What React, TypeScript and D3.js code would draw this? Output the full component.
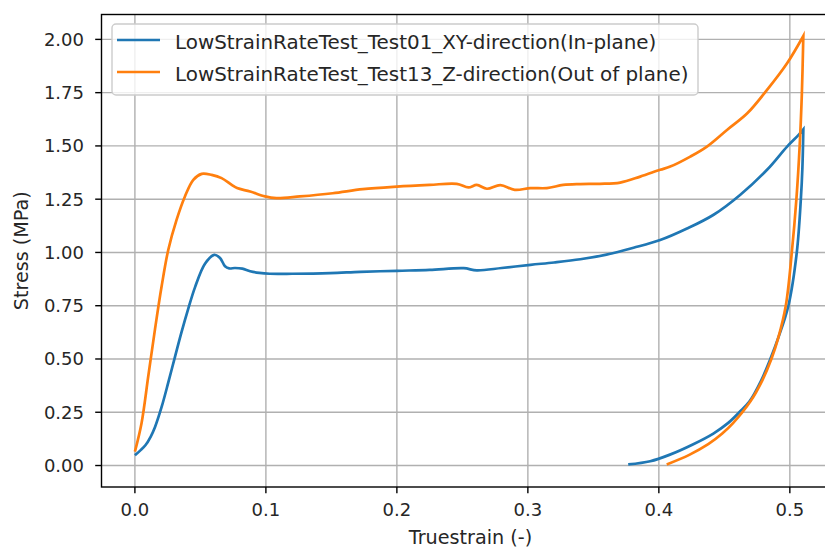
import React from 'react';
import * as d3 from 'd3';

// Test01, XY-direction (in-plane): loading part
const xyLoadStrain = [0, 0.004, 0.008, 0.012, 0.0153, 0.0204, 0.0255, 0.0306, 0.0357, 0.0407, 0.0458, 0.0535, 0.0606, 0.065, 0.0688, 0.072, 0.0764, 0.082, 0.088, 0.095, 0.103, 0.12, 0.149, 0.172, 0.2, 0.225, 0.251, 0.261, 0.28, 0.302, 0.32, 0.34, 0.36, 0.3807, 0.401, 0.4215, 0.4418, 0.462, 0.4826, 0.4979, 0.5067, 0.5103];
const xyLoadStress = [0.048, 0.07, 0.095, 0.135, 0.18, 0.275, 0.39, 0.51, 0.628, 0.735, 0.835, 0.947, 0.989, 0.974, 0.935, 0.925, 0.927, 0.924, 0.912, 0.904, 0.9, 0.9, 0.903, 0.909, 0.914, 0.918, 0.926, 0.916, 0.927, 0.942, 0.953, 0.968, 0.99, 1.022, 1.058, 1.112, 1.177, 1.27, 1.388, 1.497, 1.552, 1.578];
// unloading part
const xyUnloadStrain = [0.5103, 0.5096, 0.5084, 0.5053, 0.4989, 0.4912, 0.4851, 0.4782, 0.4691, 0.4614, 0.453, 0.4416, 0.4263, 0.408, 0.3934, 0.3766];
const xyUnloadStress = [1.578, 1.4, 1.25, 1.0, 0.75, 0.6, 0.5, 0.4, 0.3, 0.25, 0.2, 0.15, 0.1, 0.05, 0.02, 0.005];

// Test13, Z-direction (out of plane): loading part
const zLoadStrain = [0, 0.0051, 0.0102, 0.0153, 0.0204, 0.0255, 0.0318, 0.0382, 0.0446, 0.051, 0.0586, 0.0662, 0.0739, 0.078, 0.088, 0.0993, 0.108, 0.126, 0.151, 0.174, 0.2, 0.225, 0.2457, 0.2546, 0.261, 0.2687, 0.279, 0.29, 0.302, 0.3145, 0.327, 0.34, 0.355, 0.3705, 0.3858, 0.401, 0.4087, 0.424, 0.4367, 0.452, 0.4675, 0.4826, 0.4979, 0.5103];
const zLoadStress = [0.065, 0.2, 0.419, 0.638, 0.841, 1.013, 1.153, 1.263, 1.341, 1.369, 1.364, 1.349, 1.317, 1.302, 1.286, 1.263, 1.255, 1.263, 1.278, 1.297, 1.309, 1.317, 1.322, 1.305, 1.317, 1.299, 1.316, 1.294, 1.302, 1.302, 1.317, 1.321, 1.322, 1.328, 1.356, 1.388, 1.403, 1.45, 1.497, 1.575, 1.653, 1.763, 1.888, 2.016];
// unloading part
const zUnloadStrain = [0.5103, 0.5092, 0.5075, 0.505, 0.5015, 0.4969, 0.4912, 0.4859, 0.479, 0.4698, 0.4568, 0.4484, 0.4377, 0.4232, 0.406];
const zUnloadStress = [2.016, 1.75, 1.5, 1.25, 1.0, 0.75, 0.6, 0.5, 0.4, 0.3, 0.2, 0.15, 0.1, 0.05, 0.005];

const xTicks = [0, 0.1, 0.2, 0.3, 0.4, 0.5];
const yTicks = [0, 0.25, 0.5, 0.75, 1.0, 1.25, 1.5, 1.75, 2.0];

const seriesNames = [
  'LowStrainRateTest_Test01_XY-direction(In-plane)',
  'LowStrainRateTest_Test13_Z-direction(Out of plane)',
];
const seriesColors = ['#1f77b4', '#ff7f0e'];

const W = 825, H = 547;
const left = 101.5, right = 837, top = 14.5, bottom = 487;
const font = 'DejaVu Sans, sans-serif';
const fs = 18;

const pairs = (xs: number[], ys: number[]) => xs.map((v, i) => [v, ys[i]] as [number, number]);

export default function App() {
  const x = d3.scaleLinear().domain([-0.0255, 0.536]).range([left, right]);
  const y = d3.scaleLinear().domain([-0.1008, 2.1168]).range([bottom, top]);

  const line = d3.line<[number, number]>()
    .x(d => x(d[0]))
    .y(d => y(d[1]))
    .curve(d3.curveCatmullRom.alpha(0.5));

  // loading + unloading joined at the peak with a sharp corner
  const joined = (load: [number, number][], unload: [number, number][]) =>
    (line(load) || '') + (line(unload) || '').replace(/^M[^A-Za-z]*/, '');

  const paths = [
    joined(pairs(xyLoadStrain, xyLoadStress), pairs(xyUnloadStrain, xyUnloadStress)),
    joined(pairs(zLoadStrain, zLoadStress), pairs(zUnloadStrain, zUnloadStress)),
  ];

  return (
    <svg width={W} height={H} style={{ position: 'absolute', left: 0, top: 0, background: '#fff' }}
      fontFamily={font}>
      <defs>
        <clipPath id="plot">
          <rect x={left} y={top} width={right - left} height={bottom - top} />
        </clipPath>
      </defs>

      {/* grid */}
      {xTicks.map(t => (
        <line key={'gx' + t} x1={x(t)} x2={x(t)} y1={top} y2={bottom} stroke="#b0b0b0" strokeWidth={1.4} />
      ))}
      {yTicks.map(t => (
        <line key={'gy' + t} x1={left} x2={right} y1={y(t)} y2={y(t)} stroke="#b0b0b0" strokeWidth={1.4} />
      ))}

      {/* curves */}
      <g clipPath="url(#plot)">
        {paths.map((d, i) => (
          <path key={i} d={d} fill="none" stroke={seriesColors[i]} strokeWidth={2.7}
            strokeLinejoin="miter" strokeMiterlimit={10} strokeLinecap="butt" />
        ))}
      </g>

      {/* spines */}
      <rect x={left} y={top} width={right - left} height={bottom - top} fill="none" stroke="#000" strokeWidth={1.4} />

      {/* x axis */}
      {xTicks.map(t => (
        <g key={'xt' + t}>
          <line x1={x(t)} x2={x(t)} y1={bottom} y2={bottom + 6.3} stroke="#000" strokeWidth={1.4} />
          <text x={x(t)} y={bottom + 29} textAnchor="middle" fontSize={fs} fill="#262626">{t.toFixed(1)}</text>
        </g>
      ))}
      <text x={470.5} y={543.5} textAnchor="middle" fontSize={19.2} fill="#262626">Truestrain (-)</text>

      {/* y axis */}
      {yTicks.map(t => (
        <g key={'yt' + t}>
          <line x1={left - 6.3} x2={left} y1={y(t)} y2={y(t)} stroke="#000" strokeWidth={1.4} />
          <text x={84} y={y(t) + 6.5} textAnchor="end" fontSize={fs} fill="#262626">{t.toFixed(2)}</text>
        </g>
      ))}
      <text transform={`translate(27.5,${(top + bottom) / 2}) rotate(-90)`} textAnchor="middle" fontSize={19.2} fill="#262626">
        Stress (MPa)
      </text>

      {/* legend */}
      <rect x={112} y={24} width={586} height={71} rx={4} fill="#fff" fillOpacity={0.8} stroke="#cccccc" strokeWidth={1.4} />
      {seriesNames.map((n, i) => (
        <g key={n}>
          <line x1={117} x2={160} y1={40 + i * 32} y2={40 + i * 32} stroke={seriesColors[i]} strokeWidth={2.7} />
          <text x={175} y={49 + i * 32} fontSize={19.9} fill="#262626">{n}</text>
        </g>
      ))}
    </svg>
  );
}
